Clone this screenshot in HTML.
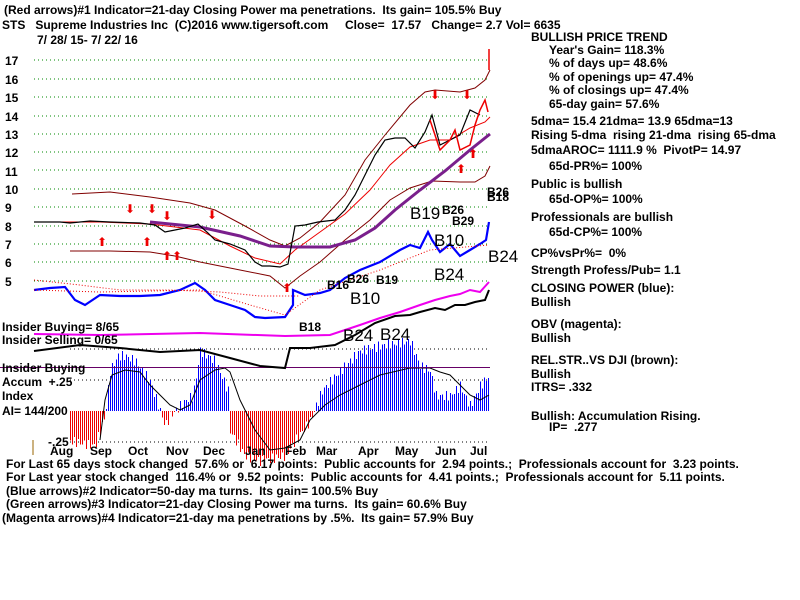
<!DOCTYPE html>
<html><head><meta charset="utf-8"><style>
body{margin:0;background:#fff;width:800px;height:600px;overflow:hidden}
svg{display:block}
text{font-family:"Liberation Sans",sans-serif;font-weight:bold;font-size:12px;fill:#000;white-space:pre}
</style></head><body>
<svg width="800" height="600" viewBox="0 0 800 600" xml:space="preserve">
<g fill="none" stroke="#080" stroke-dasharray="1,3">
<line x1="34" y1="60" x2="490" y2="60"/><line x1="34" y1="79" x2="490" y2="79"/><line x1="34" y1="97" x2="490" y2="97"/><line x1="34" y1="116" x2="490" y2="116"/><line x1="34" y1="134" x2="490" y2="134"/><line x1="34" y1="152" x2="490" y2="152"/><line x1="34" y1="170" x2="490" y2="170"/><line x1="34" y1="189" x2="490" y2="189"/><line x1="34" y1="207" x2="490" y2="207"/><line x1="34" y1="226" x2="490" y2="226"/><line x1="34" y1="244" x2="490" y2="244"/><line x1="34" y1="262" x2="490" y2="262"/><line x1="34" y1="281" x2="490" y2="281"/>
</g>
<g fill="none" stroke="#000" stroke-dasharray="1,3">
<line x1="70" y1="349" x2="490" y2="349"/><line x1="70" y1="380" x2="490" y2="380"/><line x1="70" y1="442" x2="490" y2="442"/>
</g>
<g id="bars"></g>
<polyline fill="none" stroke="#000" stroke-width="1" points="100,440 105,400 112,375 125,370 140,372 150,385 160,395 170,405 180,410 190,405 200,380 215,370 225,368 230,372 240,400 255,430 270,450 285,448 300,440 310,420 325,405 340,395 360,385 380,375 410,368 430,368 440,372 450,375 460,385 470,395 480,400 489,395"/>
<line x1="0" y1="367.5" x2="490" y2="367.5" stroke="#606" stroke-width="1"/>
<g fill="none" stroke="#800000" stroke-width="1">
<polyline points="72,194 110,192 150,197 190,203 215,210 245,226 270,240 285,246 300,238 320,222 345,195 365,160 385,135 410,105 425,92 435,90 460,92 475,88 485,80 490,70"/>
<polyline points="70,251 110,251 150,252 175,256 200,262 230,268 270,276 285,288 300,276 320,262 345,240 370,220 390,200 410,188 432,181 460,182 475,182 485,176 490,166"/>
</g>
<g fill="none" stroke="#e00" stroke-width="1">
<polyline points="34,222 100,222 150,224 200,230 230,246 255,258 280,264 295,250 320,232 345,214 370,190 390,165 410,147 430,140 450,140 470,128 485,122 490,117"/>
<polyline points="34,280 80,285 120,290 170,290 220,292 260,296 300,296" stroke-dasharray="1,2"/>
</g>
<polyline fill="none" stroke="#7a1f8c" stroke-width="3" points="150,222 200,227 240,236 270,246 295,247 330,247 355,240 375,228 395,210 420,190 445,171 470,150 490,134"/>
<polyline fill="none" stroke="#000" stroke-width="1.2" points="34,222 60,222 70,223 90,221 110,222 140,223 155,225 165,232 175,230 185,228 198,224 208,233 215,240 230,244 245,250 255,262 262,266 270,266 280,267 288,264 295,226 305,225 318,222 335,220 345,210 355,195 365,175 375,155 385,140 395,138 405,138 415,148 425,132 432,115 440,145 450,140 460,135 470,110 480,115"/>
<polyline fill="none" stroke="#e00" stroke-width="1.5" points="430,120 440,150 450,140 455,130 460,150 470,145 475,125 480,110 485,100 488,112"/>
<line x1="489" y1="49" x2="489" y2="70" stroke="#e00" stroke-width="1.5"/>
<polyline fill="none" stroke="#00f" stroke-width="2.2" points="34,290 50,288 65,287 75,300 85,305 100,295 120,296 140,296 160,295 180,290 195,283 205,290 215,300 230,305 245,310 255,317 265,318 285,317 293,305 293,290 305,295 320,293 330,290 345,278 360,270 380,262 400,250 410,245 420,248 428,232 432,240 440,252 450,244 460,256 470,250 480,244 486,240 489,222"/>
<polyline fill="none" stroke="#e00" stroke-dasharray="1,2" points="34,290 100,292 200,290 250,305 285,315 320,290 380,270 430,250 489,245"/>
<polyline fill="none" stroke="#e0e" stroke-width="2" points="34,334 100,335 200,333 285,336 330,335 360,325 380,318 400,312 420,305 435,300 450,296 460,294 470,290 480,292 489,282"/>
<polyline fill="none" stroke="#000" stroke-width="2" points="34,351 80,345 120,348 160,352 200,350 230,358 260,366 285,368 290,348 310,348 335,345 355,335 375,323 395,316 410,315 420,312 435,308 445,310 455,305 465,305 475,302 485,300 489,290"/>
<g font-size="15">
<text x="125" y="213" style="fill:#e00;font-weight:normal">⬇</text><text x="147" y="213" style="fill:#e00;font-weight:normal">⬇</text><text x="162" y="220" style="fill:#e00;font-weight:normal">⬇</text><text x="207" y="219" style="fill:#e00;font-weight:normal">⬇</text>
<text x="97" y="246" style="fill:#e00;font-weight:normal">⬆</text><text x="142" y="246" style="fill:#e00;font-weight:normal">⬆</text><text x="162" y="260" style="fill:#e00;font-weight:normal">⬆⬆</text>
<text x="282" y="292" style="fill:#e00;font-weight:normal">⬆</text><text x="430" y="99" style="fill:#e00;font-weight:normal">⬇</text><text x="462" y="99" style="fill:#e00;font-weight:normal">⬇</text><text x="456" y="173" style="fill:#e00;font-weight:normal">⬆</text><text x="468" y="158" style="fill:#e00;font-weight:normal">⬆</text>
</g>
<g>
<text x="410" y="219" style="font-weight:normal;font-size:17px">B19</text><text x="434" y="246" style="font-weight:normal;font-size:17px">B10</text><text x="434" y="280" style="font-weight:normal;font-size:17px">B24</text><text x="488" y="262" style="font-weight:normal;font-size:17px">B24</text>
<text x="343" y="341" style="font-weight:normal;font-size:17px">B24</text><text x="380" y="340" style="font-weight:normal;font-size:17px">B24</text><text x="350" y="304" style="font-weight:normal;font-size:17px">B10</text>
<text x="442" y="214">B26</text><text x="452" y="225">B29</text><text x="487" y="196">B26</text><text x="487" y="201">B18</text>
<text x="327" y="289">B16</text><text x="347" y="283">B26</text><text x="376" y="284">B19</text><text x="299" y="331">B18</text>
</g>
<g font-size="13"><text x="5" y="65">17</text><text x="5" y="84">16</text><text x="5" y="102">15</text><text x="5" y="121">14</text><text x="5" y="139">13</text><text x="5" y="157">12</text><text x="5" y="176">11</text><text x="5" y="194">10</text><text x="5" y="212">9</text><text x="5" y="231">8</text><text x="5" y="249">7</text><text x="5" y="267">6</text><text x="5" y="286">5</text></g>
<text x="4" y="14">(Red arrows)#1 Indicator=21-day Closing Power ma penetrations.  Its gain= 105.5% Buy</text>
<text x="2" y="29">STS   Supreme Industries Inc  (C)2016 www.tigersoft.com     Close=  17.57   Change= 2.7 Vol= 6635</text>
<text x="37" y="44">7/ 28/ 15- 7/ 22/ 16</text>
<text x="2" y="331">Insider Buying= 8/65</text>
<text x="2" y="344">Insider Selling= 0/65</text>
<text x="2" y="372">Insider Buying</text>
<text x="2" y="386">Accum  +.25</text>
<text x="2" y="400">Index</text>
<text x="2" y="415">AI= 144/200</text>
<text x="48" y="446">-.25</text>
<line x1="33" y1="440" x2="33" y2="455" stroke="#960"/>
<g><text x="50" y="455">Aug</text><text x="90" y="455">Sep</text><text x="128" y="455">Oct</text><text x="166" y="455">Nov</text><text x="203" y="455">Dec</text><text x="245" y="455">Jan</text><text x="285" y="455">Feb</text><text x="316" y="455">Mar</text><text x="358" y="455">Apr</text><text x="395" y="455">May</text><text x="435" y="455">Jun</text><text x="470" y="455">Jul</text></g>
<text x="6" y="468">For Last 65 days stock changed  57.6% or  6.17 points:  Public accounts for  2.94 points.;  Professionals account for  3.23 points.</text>
<text x="6" y="481">For Last year stock changed  116.4% or  9.52 points:  Public accounts for  4.41 points.;  Professionals account for  5.11 points.</text>
<text x="6" y="495">(Blue arrows)#2 Indicator=50-day ma turns.  Its gain= 100.5% Buy</text>
<text x="6" y="508">(Green arrows)#3 Indicator=21-day Closing Power ma turns.  Its gain= 60.6% Buy</text>
<text x="2" y="522">(Magenta arrows)#4 Indicator=21-day ma penetrations by .5%.  Its gain= 57.9% Buy</text>
<text x="531" y="41">BULLISH PRICE TREND</text>
<text x="549" y="54">Year's Gain= 118.3%</text>
<text x="549" y="67">% of days up= 48.6%</text>
<text x="549" y="81">% of openings up= 47.4%</text>
<text x="549" y="94">% of closings up= 47.4%</text>
<text x="549" y="108">65-day gain= 57.6%</text>
<text x="531" y="125">5dma= 15.4 21dma= 13.9 65dma=13</text>
<text x="531" y="139">Rising 5-dma  rising 21-dma  rising 65-dma</text>
<text x="531" y="154">5dmaAROC= 1111.9 %  PivotP= 14.97</text>
<text x="549" y="170">65d-PR%= 100%</text>
<text x="531" y="188">Public is bullish</text>
<text x="549" y="203">65d-OP%= 100%</text>
<text x="531" y="221">Professionals are bullish</text>
<text x="549" y="236">65d-CP%= 100%</text>
<text x="531" y="257">CP%vsPr%=  0%</text>
<text x="531" y="274">Strength Profess/Pub= 1.1</text>
<text x="531" y="292">CLOSING POWER (blue):</text>
<text x="531" y="306">Bullish</text>
<text x="531" y="328">OBV (magenta):</text>
<text x="531" y="342">Bullish</text>
<text x="531" y="364">REL.STR..VS DJI (brown):</text>
<text x="531" y="378">Bullish</text>
<text x="531" y="391">ITRS= .332</text>
<text x="531" y="420">Bullish: Accumulation Rising.</text>
<text x="549" y="431">IP=  .277</text>
</svg>
<script>
(function(){
var g=document.getElementById('bars'),ns='http://www.w3.org/2000/svg';
var pts=[[70,-30],[95,-35],[100,-20],[105,-5],[110,40],[118,55],[125,55],[135,50],[150,30],[165,-15],[170,-5],[185,10],[193,15],[200,60],[215,50],[228,20],[230,-20],[245,-45],[260,-50],[285,-45],[295,-30],[310,-10],[322,20],[340,40],[360,60],[380,65],[410,70],[420,45],[430,40],[436,15],[450,15],[460,25],[470,5],[480,25],[489,35]];
function val(x){for(var i=1;i<pts.length;i++){if(x<=pts[i][0]){var a=pts[i-1],b=pts[i];return a[1]+(b[1]-a[1])*(x-a[0])/(b[0]-a[0]);}}return 35;}
for(var x=70;x<=489;x+=2){var v=val(x)+Math.sin(x*1.3)*5;var l=document.createElementNS(ns,'line');l.setAttribute('x1',x+0.5);l.setAttribute('x2',x+0.5);l.setAttribute('y1',411);l.setAttribute('y2',411-v);l.setAttribute('stroke',v>=0?'#00f':'#e00');l.setAttribute('stroke-width','1');l.setAttribute('shape-rendering','crispEdges');g.appendChild(l);}
})();
</script>
</body></html>
